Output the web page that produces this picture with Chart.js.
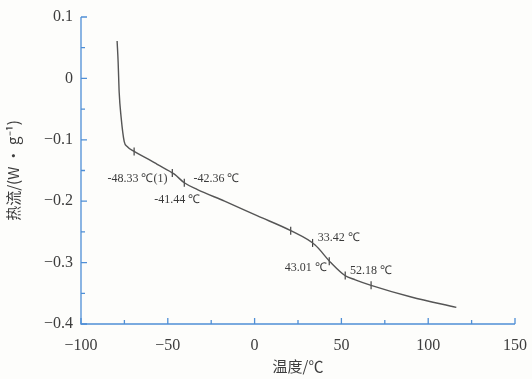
<!DOCTYPE html>
<html lang="zh">
  <head>
    <meta charset="UTF-8" />
    <title>DSC</title>
    <style>
      body { margin: 0; background: #fdfdfb; }
      #wrap { width: 532px; height: 379px; position: relative; }
    </style>
  </head>
  <body>
    <div id="wrap"><canvas id="dsc"></canvas></div>

    <script src="https://cdn.jsdelivr.net/npm/chart.js@4/dist/chart.umd.min.js"></script>
    <script>
      // curve (temperature in C, heat flow in W/g)
      var temps = [-79.2, -78.6, -78.0, -76.9, -75.1, -73.4, -69.4, -61.0, -56.1, -46.2, -40.5, -32.9, -17.3, 1.7, 20.8, 34.7, 43.9, 52.0, 58.0, 67.1, 90.2, 116.2];
      var flow  = [0.061, 0.026, -0.023, -0.063, -0.103, -0.111, -0.119, -0.132, -0.140, -0.156, -0.170, -0.181, -0.200, -0.224, -0.248, -0.271, -0.300, -0.321, -0.328, -0.337, -0.356, -0.373];

      // little tick marks on the curve
      var markT = [-69.4, -47.4, -40.5, 20.8, 33.4, 43.0, 52.2, 67.1];
      var markF = [-0.119, -0.154, -0.170, -0.248, -0.268, -0.298, -0.321, -0.337];

      // labels and where they sit (data coords)
      var labelText = ['-48.33 ℃(1)', '-42.36 ℃', '-41.44 ℃', '33.42 ℃', '43.01 ℃', '52.18 ℃'];
      var labelT    = [-67.5, -22.0, -44.5, 48.5, 29.5, 67.0];
      var labelF    = [-0.163, -0.163, -0.198, -0.260, -0.308, -0.313];

      var xTicks = [-100, -50, 0, 50, 100, 150];
      var yTicks = [0.1, 0, -0.1, -0.2, -0.3, -0.4];

      var axisBlue = '#4f8fd6';

      function minus(s) { return String(s).replace('-', '\u2212'); }

      // inward ticks on left and bottom axes, plus minor ones halfway
      var innerTicks = {
        id: 'innerTicks',
        afterDraw: function (chart) {
          var c = chart.ctx, x = chart.scales.x, y = chart.scales.y, a = chart.chartArea;
          c.save();
          c.strokeStyle = axisBlue;
          c.lineWidth = 1.3;
          c.beginPath();
          c.moveTo(a.left, a.top); c.lineTo(a.left, a.bottom); c.lineTo(a.right, a.bottom);
          c.stroke();
          c.beginPath();
          for (var i = 0; i < xTicks.length; i++) {
            var px = x.getPixelForValue(xTicks[i]);
            c.moveTo(px, a.bottom); c.lineTo(px, a.bottom - 6);
            if (i < xTicks.length - 1) {
              var pm = x.getPixelForValue((xTicks[i] + xTicks[i + 1]) / 2);
              c.moveTo(pm, a.bottom); c.lineTo(pm, a.bottom - 4);
            }
          }
          for (var j = 0; j < yTicks.length; j++) {
            var py = y.getPixelForValue(yTicks[j]);
            c.moveTo(a.left, py); c.lineTo(a.left + 6, py);
            if (j < yTicks.length - 1) {
              var qm = y.getPixelForValue((yTicks[j] + yTicks[j + 1]) / 2);
              c.moveTo(a.left, qm); c.lineTo(a.left + 4, qm);
            }
          }
          c.stroke();

          // annotations
          c.fillStyle = '#3a3a3a';
          c.font = '12px "Liberation Serif", serif';
          c.textAlign = 'center';
          c.textBaseline = 'middle';
          for (var k = 0; k < labelText.length; k++) {
            c.fillText(labelText[k], x.getPixelForValue(labelT[k]), y.getPixelForValue(labelF[k]));
          }
          c.restore();
        }
      };

      var pts = temps.map(function (t, i) { return { x: t, y: flow[i] }; });
      var marks = markT.map(function (t, i) { return { x: t, y: markF[i] }; });

      new Chart(document.getElementById('dsc'), {
        type: 'scatter',
        data: {
          datasets: [{
            data: pts,
            showLine: true,
            borderColor: '#555',
            borderWidth: 1.4,
            pointRadius: 0,
            cubicInterpolationMode: 'monotone'
          }, {
            data: marks,
            showLine: false,
            pointStyle: 'line',
            rotation: 90,
            radius: 4,
            borderColor: '#444',
            borderWidth: 1.2
          }]
        },
        options: {
          responsive: true,
          maintainAspectRatio: false,
          animation: false,
          layout: { padding: { top: 17, right: 17, left: 0, bottom: 0 } },
          plugins: { legend: { display: false }, tooltip: { enabled: false } },
          scales: {
            x: {
              type: 'linear', min: -100, max: 150,
              afterBuildTicks: function (s) { s.ticks = xTicks.map(function (v) { return { value: v }; }); },
              afterFit: function (s) { s.height = 55; s.paddingLeft = 0; s.paddingRight = 0; },
              grid: { display: false, drawTicks: false },
              border: { display: false },
              ticks: {
                padding: 12,
                color: '#3d3d3d',
                font: { family: '"Liberation Serif", serif', size: 16 },
                callback: function (v) { return minus(v); }
              },
              title: {
                display: true, text: '温度/℃', color: '#3d3d3d', padding: { top: 0 },
                font: { family: '"Noto Sans CJK SC", sans-serif', size: 15 }
              }
            },
            y: {
              type: 'linear', min: -0.4, max: 0.1,
              afterBuildTicks: function (s) { s.ticks = yTicks.map(function (v) { return { value: v }; }); },
              afterFit: function (s) { s.width = 81; s.paddingTop = 0; s.paddingBottom = 0; },
              grid: { display: false, drawTicks: false },
              border: { display: false },
              ticks: {
                padding: 8,
                color: '#3d3d3d',
                font: { family: '"Liberation Serif", serif', size: 16 },
                callback: function (v) { return minus(Math.round(v * 10) / 10); }
              },
              title: {
                display: true, text: '热流/(W · g⁻¹)', color: '#3d3d3d', padding: { bottom: 2 },
                font: { family: '"Noto Sans CJK SC", sans-serif', size: 15 }
              }
            }
          }
        },
        plugins: [innerTicks]
      });
    </script>
  </body>
</html>
